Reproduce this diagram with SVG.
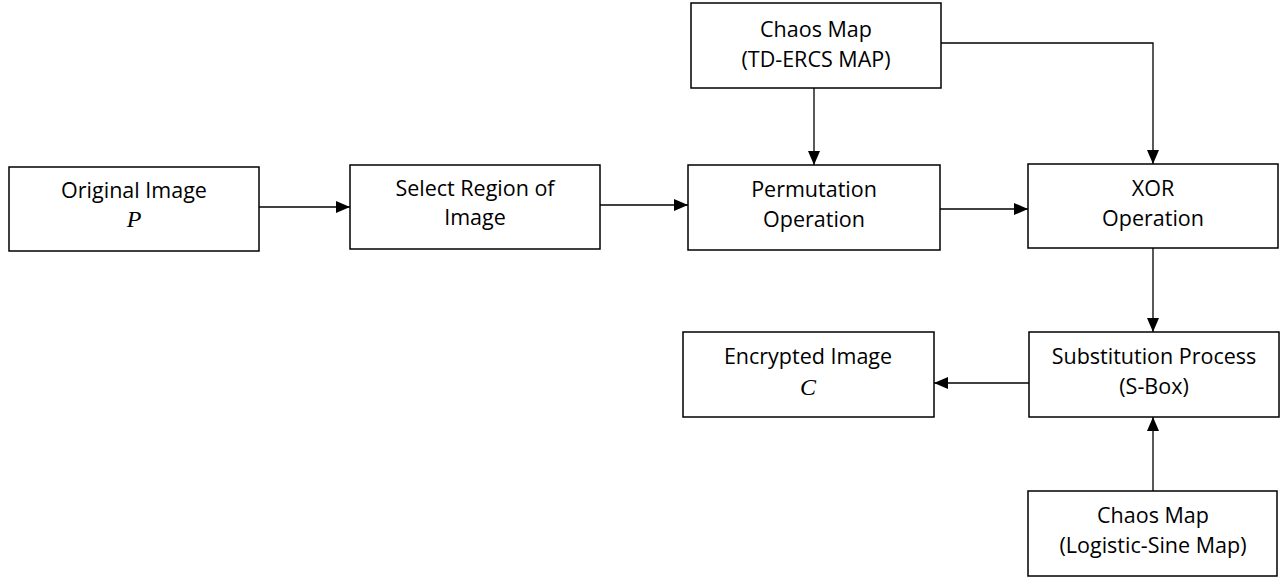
<svg xmlns="http://www.w3.org/2000/svg" width="1281" height="577" viewBox="0 0 1281 577">
<style>
.box{fill:#fff;stroke:#000;stroke-width:1.5}
.t{font-family:"Open Sans","Liberation Sans",sans-serif;font-size:21.5px;fill:#000;text-anchor:middle}
.m{font-family:"Liberation Serif",serif;font-style:italic;font-size:24px;fill:#000;text-anchor:middle}
.c{stroke:#000;stroke-width:1.3;fill:none}
</style>
<defs>
<marker id="ah" markerWidth="14" markerHeight="12" refX="14" refY="6" orient="auto" markerUnits="userSpaceOnUse">
<path d="M0,0 L14,6 L0,12 Z" fill="#000"/>
</marker>
</defs>
<rect width="1281" height="577" fill="#fff"/>
<g id="connectors">
<line class="c" x1="259" y1="207" x2="350" y2="207" marker-end="url(#ah)"/>
<line class="c" x1="600" y1="205" x2="688" y2="205" marker-end="url(#ah)"/>
<line class="c" x1="940" y1="209" x2="1028" y2="209" marker-end="url(#ah)"/>
<line class="c" x1="814" y1="88" x2="814" y2="165" marker-end="url(#ah)"/>
<polyline class="c" points="941,43 1153,43 1153,164" marker-end="url(#ah)"/>
<line class="c" x1="1153" y1="248" x2="1153" y2="332" marker-end="url(#ah)"/>
<line class="c" x1="1029" y1="383" x2="934" y2="383" marker-end="url(#ah)"/>
<line class="c" x1="1153" y1="491" x2="1153" y2="417" marker-end="url(#ah)"/>
</g>
<g id="original">
<rect class="box" x="9" y="167" width="250" height="84"/>
<text class="t" x="134" y="198">Original Image</text>
<text class="m" x="134" y="227">P</text>
</g>
<g id="select">
<rect class="box" x="350" y="165" width="250" height="84"/>
<text class="t" x="475" y="196">Select Region of</text>
<text class="t" x="475" y="225">Image</text>
</g>
<g id="chaos1">
<rect class="box" x="691" y="3" width="250" height="85"/>
<text class="t" x="816" y="37">Chaos Map</text>
<text class="t" x="816" y="67">(TD-ERCS MAP)</text>
</g>
<g id="perm">
<rect class="box" x="688" y="165" width="252" height="85"/>
<text class="t" x="814" y="197">Permutation</text>
<text class="t" x="814" y="227">Operation</text>
</g>
<g id="xor">
<rect class="box" x="1028" y="164" width="250" height="84"/>
<text class="t" x="1153" y="196">XOR</text>
<text class="t" x="1153" y="226">Operation</text>
</g>
<g id="subst">
<rect class="box" x="1029" y="332" width="250" height="85"/>
<text class="t" x="1154" y="364">Substitution Process</text>
<text class="t" x="1154" y="394">(S-Box)</text>
</g>
<g id="encrypted">
<rect class="box" x="683" y="332" width="251" height="85"/>
<text class="t" x="808" y="364">Encrypted Image</text>
<text class="m" x="808" y="395">C</text>
</g>
<g id="chaos2">
<rect class="box" x="1028" y="491" width="249" height="85"/>
<text class="t" x="1153" y="523">Chaos Map</text>
<text class="t" x="1153" y="553">(Logistic-Sine Map)</text>
</g>
</svg>
